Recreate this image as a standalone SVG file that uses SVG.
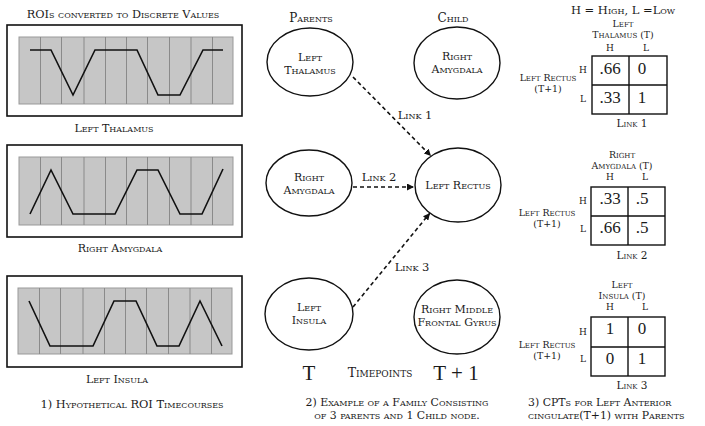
<svg xmlns="http://www.w3.org/2000/svg" width="705" height="426" viewBox="0 0 705 426">
<style>
text{font-family:"DejaVu Serif","Liberation Serif",serif;font-variant:small-caps;fill:#1a1a1a;text-anchor:middle}
.title{font-size:11.3px}
.lab{font-size:11px}
.cap{font-size:11.4px}
.cap2{font-size:10.9px}
.nd{font-size:11px}
.lk{font-size:11.5px}
.hd{font-size:12px}
.hh{font-size:11.5px}
.tp{font-size:12.5px}
.th{font-size:9.4px}
.tl{font-size:10.5px}
.hl{font-size:9px}
.val{font-family:"Liberation Serif",serif;font-size:17px;font-variant:normal}
.big{font-family:"Liberation Serif",serif;font-size:21px;font-variant:normal}
.frame{fill:#fff;stroke:#111;stroke-width:1.6}
.gray{fill:#c6c6c6;stroke:#999;stroke-width:1}
.col{stroke:#8a8a8a;stroke-width:1}
.wave{fill:none;stroke:#111;stroke-width:1.6;stroke-linejoin:miter}
.node{fill:#fff;stroke:#111;stroke-width:1.4}
.link{fill:none;stroke:#111;stroke-width:1.6;stroke-dasharray:4 3}
.cell{fill:#fff;stroke:#111;stroke-width:1.4}
</style>
<defs>
<marker id="ah" viewBox="0 0 10 10" refX="10" refY="5" markerWidth="7" markerHeight="7" markerUnits="userSpaceOnUse" orient="auto">
<path d="M0,0 L10,5 L0,10 z" fill="#111"/>
</marker>
</defs>
<rect width="705" height="426" fill="#fff"/>

<g id="panel1">
<text class="title" x="123" y="18">ROIs converted to Discrete Values</text>
<g id="ts-left-thalamus">
<rect class="frame" x="7" y="25" width="235" height="91"/>
<rect class="gray" x="19" y="37" width="214" height="67"/>
<path class="col" d="M40.5,37V104M61.5,37V104M84,37V104M105.5,37V104M126.5,37V104M147.5,37V104M169.5,37V104M191,37V104M212.5,37V104"/>
<polyline class="wave" points="30,50 51,50 73,95 95,50 137,50 158,95 180,95 203,50 223,50"/>
<text class="lab" x="114" y="132">Left Thalamus</text>
</g>
<g id="ts-right-amygdala">
<rect class="frame" x="7" y="145" width="235" height="92"/>
<rect class="gray" x="19" y="157" width="214" height="68"/>
<path class="col" d="M40.5,157V225M61.5,157V225M84,157V225M105.5,157V225M126.5,157V225M147.5,157V225M169.5,157V225M191,157V225M212.5,157V225"/>
<polyline class="wave" points="30,214 51,170 73,214 115,214 137,170 158,170 180,214 202,214 223,169"/>
<text class="lab" x="120" y="252">Right Amygdala</text>
</g>
<g id="ts-left-insula">
<rect class="frame" x="7" y="276" width="235" height="91"/>
<rect class="gray" x="18" y="288" width="214" height="66"/>
<path class="col" d="M39.5,288V354M60.5,288V354M83,288V354M104.5,288V354M125.5,288V354M146.5,288V354M168.5,288V354M190,288V354M211.5,288V354"/>
<polyline class="wave" points="29,301 50,346 93,346 114,301 136,301 157,346 179,346 200,301 222,346"/>
<text class="lab" x="117" y="383">Left Insula</text>
</g>
<text class="cap" x="132" y="408">1) Hypothetical ROI Timecourses</text>
</g>

<text class="hd" x="311" y="22">Parents</text>
<text class="hd" x="453" y="22">Child</text>

<g id="connectors">
<line class="link" x1="353" y1="77" x2="431" y2="156" marker-end="url(#ah)"/>
<line class="link" x1="353" y1="187" x2="414" y2="187" marker-end="url(#ah)"/>
<line class="link" x1="353" y1="307" x2="430" y2="213" marker-end="url(#ah)"/>
<text class="lk" x="415" y="119">Link 1</text>
<text class="lk" x="379" y="181">Link 2</text>
<text class="lk" x="412" y="271">Link 3</text>
</g>

<g id="node-left-thalamus">
<ellipse class="node" cx="310" cy="62" rx="43" ry="34"/>
<text class="nd" x="310" y="61">Left</text>
<text class="nd" x="310" y="74">Thalamus</text>
</g>
<g id="node-right-amygdala-child">
<ellipse class="node" cx="457" cy="63" rx="43" ry="36"/>
<text class="nd" x="457" y="60">Right</text>
<text class="nd" x="457" y="73">Amygdala</text>
</g>
<g id="node-right-amygdala">
<ellipse class="node" cx="309" cy="183" rx="43" ry="33"/>
<text class="nd" x="309" y="181">Right</text>
<text class="nd" x="309" y="194">Amygdala</text>
</g>
<g id="node-left-rectus">
<ellipse class="node" cx="458" cy="185" rx="43" ry="37"/>
<text class="nd" x="458" y="189">Left Rectus</text>
</g>
<g id="node-left-insula">
<ellipse class="node" cx="309" cy="314" rx="44" ry="36"/>
<text class="nd" x="309" y="311">Left</text>
<text class="nd" x="309" y="324">Insula</text>
</g>
<g id="node-right-mfg">
<ellipse class="node" cx="457" cy="317" rx="43" ry="37"/>
<text class="nd" x="457" y="313">Right Middle</text>
<text class="nd" x="457" y="326">Frontal Gyrus</text>
</g>

<text class="big" x="309" y="380">T</text>
<text class="tp" x="380" y="377">Timepoints</text>
<text class="big" x="456" y="380">T + 1</text>
<text class="cap2" x="397" y="405.5">2) Example of a Family Consisting</text>
<text class="cap2" x="397" y="418.5">of 3 parents and 1 Child node.</text>

<text class="hh" x="623" y="14">H = High, L =Low</text>

<g id="cpt1">
<text class="th" x="623" y="27">Left</text>
<text class="th" x="623" y="38">Thalamus (T)</text>
<text class="hl" x="610" y="51">H</text>
<text class="hl" x="646" y="51">L</text>
<rect class="cell" x="592" y="56" width="75" height="58"/>
<path class="cell" d="M629,56V114M592,85H667"/>
<text class="val" x="610" y="74">.66</text>
<text class="val" x="642" y="74">0</text>
<text class="val" x="610" y="103">.33</text>
<text class="val" x="642" y="103">1</text>
<text class="hl" x="583" y="73">H</text>
<text class="hl" x="583" y="102">L</text>
<text class="th" x="548" y="81">Left Rectus</text>
<text class="th" x="548" y="92">(T+1)</text>
<text class="tl" x="632" y="127">Link 1</text>
</g>

<g id="cpt2">
<text class="th" x="622" y="158">Right</text>
<text class="th" x="622" y="169">Amygdala (T)</text>
<text class="hl" x="610" y="180">H</text>
<text class="hl" x="645" y="180">L</text>
<rect class="cell" x="591" y="187" width="74" height="58"/>
<path class="cell" d="M628,187V245M591,216H665"/>
<text class="val" x="610" y="204">.33</text>
<text class="val" x="642" y="204">.5</text>
<text class="val" x="610" y="233">.66</text>
<text class="val" x="642" y="233">.5</text>
<text class="hl" x="583" y="204">H</text>
<text class="hl" x="583" y="232">L</text>
<text class="th" x="547" y="216">Left Rectus</text>
<text class="th" x="547" y="227">(T+1)</text>
<text class="tl" x="632" y="259">Link 2</text>
</g>

<g id="cpt3">
<text class="th" x="622" y="288">Left</text>
<text class="th" x="622" y="299">Insula (T)</text>
<text class="hl" x="610" y="310">H</text>
<text class="hl" x="645" y="310">L</text>
<rect class="cell" x="591" y="317" width="74" height="59"/>
<path class="cell" d="M628,317V376M591,347H665"/>
<text class="val" x="610" y="334">1</text>
<text class="val" x="642" y="334">0</text>
<text class="val" x="610" y="364">0</text>
<text class="val" x="642" y="364">1</text>
<text class="hl" x="583" y="335">H</text>
<text class="hl" x="583" y="362">L</text>
<text class="th" x="547" y="348">Left Rectus</text>
<text class="th" x="547" y="359">(T+1)</text>
<text class="tl" x="632" y="389">Link 3</text>
</g>
<text class="cap2" x="528" y="406" style="text-anchor:start">3) CPTs for Left Anterior</text>
<text class="cap2" x="528" y="419" style="text-anchor:start">cingulate(T+1) with Parents</text>
</svg>
